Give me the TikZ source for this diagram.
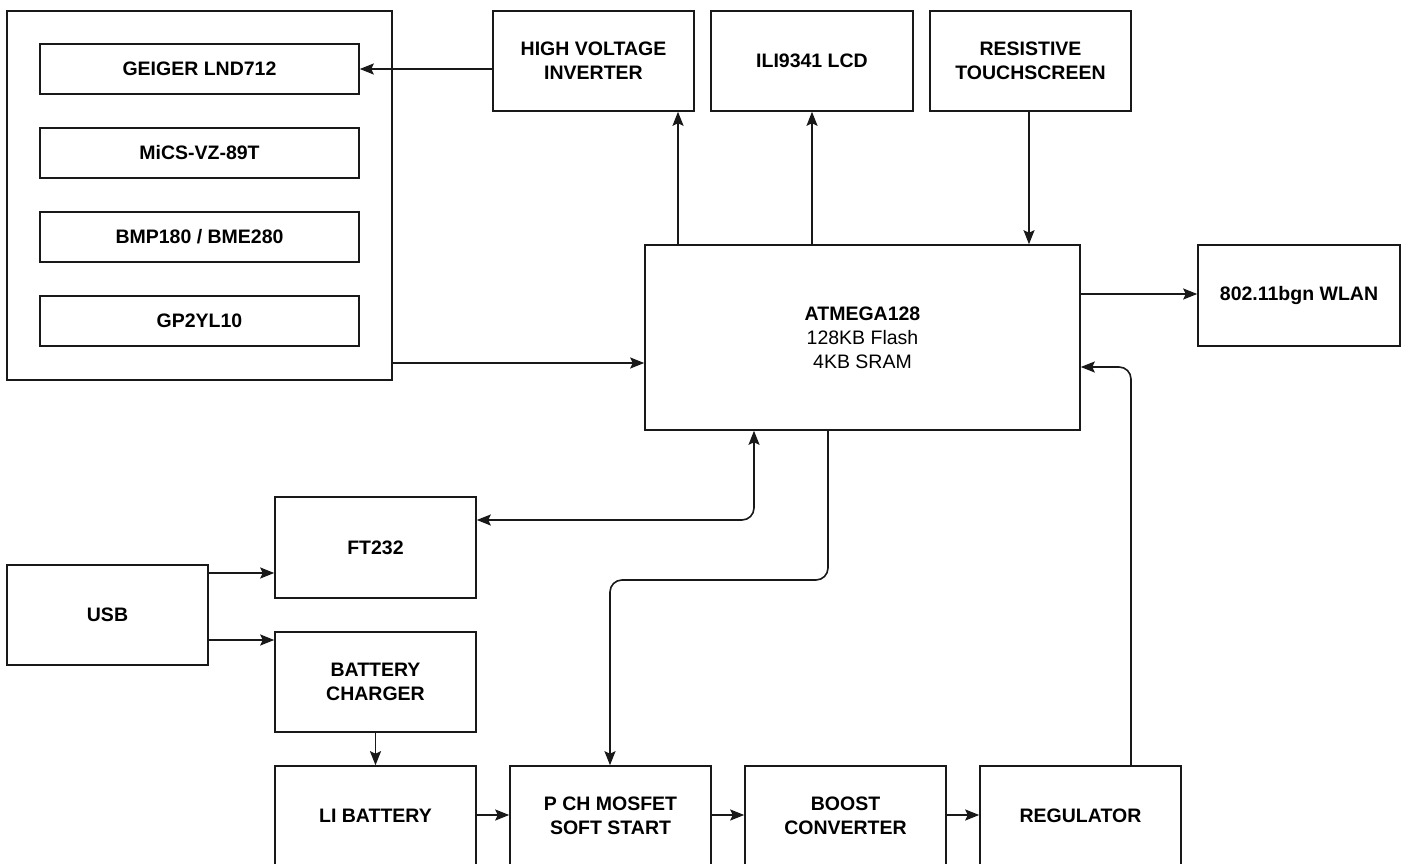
\documentclass[tikz,border=0pt]{standalone}
\usepackage{fontspec}
\setmainfont{Liberation Sans}
\usetikzlibrary{arrows.meta}
\tikzset{
  box/.style={draw=black!90, line width=1.6pt, fill=white, align=center, inner sep=0pt,
    font=\bfseries\fontsize{19.5}{24}\selectfont},
  arr/.style={draw=black!90, line width=1.6pt, -{Stealth[length=14pt,width=11pt,inset=2.5pt]}},
  arrb/.style={draw=black!90, line width=1.6pt, {Stealth[length=14pt,width=11pt,inset=2.5pt]}-{Stealth[length=14pt,width=11pt,inset=2.5pt]}},
}
\begin{document}
\begin{tikzpicture}[x=1pt,y=-1pt]
\clip (0,0) rectangle (1406,864);
\fill[white] (0,0) rectangle (1406,864);
% sensor group
\node[box, minimum width=385, minimum height=369] (sens) at (199.5,195.5) {};
\node[box, minimum width=319, minimum height=50] (geiger) at (199.5,69) {GEIGER LND712};
\node[box, minimum width=319, minimum height=50] (mics) at (199.5,153) {MiCS-VZ-89T};
\node[box, minimum width=319, minimum height=50] (bmp) at (199.5,237) {BMP180 / BME280};
\node[box, minimum width=319, minimum height=50] (gp) at (199.5,321) {GP2YL10};
% top row
\node[box, minimum width=201, minimum height=100] (hv) at (593.5,61) {HIGH VOLTAGE\\INVERTER};
\node[box, minimum width=202, minimum height=100] (lcd) at (812,61) {ILI9341 LCD};
\node[box, minimum width=201, minimum height=100] (touch) at (1030.5,61) {RESISTIVE\\TOUCHSCREEN};
% MCU
\node[box, minimum width=435, minimum height=185] (atm) at (862.5,337.5)
  {ATMEGA128\\{\mdseries 128KB Flash}\\{\mdseries 4KB SRAM}};
\node[box, minimum width=202, minimum height=101] (wlan) at (1299,295.5) {802.11bgn WLAN};
% left lower
\node[box, minimum width=201, minimum height=101] (ft) at (375.5,547.5) {FT232};
\node[box, minimum width=201, minimum height=100] (usb) at (107.5,615) {USB};
\node[box, minimum width=201, minimum height=100] (chg) at (375.5,682) {BATTERY\\CHARGER};
% bottom row
\node[box, minimum width=201, minimum height=100] (li) at (375.5,816) {LI BATTERY};
\node[box, minimum width=201, minimum height=100] (pch) at (610.5,816) {P CH MOSFET\\SOFT START};
\node[box, minimum width=201, minimum height=100] (boost) at (845.5,816) {BOOST\\CONVERTER};
\node[box, minimum width=201, minimum height=100] (reg) at (1080.5,816) {REGULATOR};
% connectors
\draw[arr] (hv.west |- geiger.east) -- (geiger.east);
\draw[arr] (sens.east |- 0,363) -- (atm.west |- 0,363);
\draw[arr] (atm.north -| 678,0) -- (hv.south -| 678,0);
\draw[arr] (atm.north -| lcd.south) -- (lcd.south);
\draw[arr] (touch.south -| 1029,0) -- (atm.north -| 1029,0);
\draw[arr] (atm.east |- 0,294) -- (wlan.west |- 0,294);
\draw[arr, rounded corners=12] (reg.north -| 1131,0) -- (1131,367) -- (atm.east |- 0,367);
\draw[arrb, rounded corners=12] (ft.east |- 0,520) -- (754,520) -- (atm.south -| 754,0);
\draw[arr, rounded corners=12] (atm.south -| 828,0) -- (828,580) -- (610,580) -- (pch.north -| 610,0);
\draw[arr] (usb.east |- 0,573) -- (ft.west |- 0,573);
\draw[arr] (usb.east |- 0,640) -- (chg.west |- 0,640);
\draw[arr] (chg.south) -- (li.north);
\draw[arr] (li.east |- 0,815) -- (pch.west |- 0,815);
\draw[arr] (pch.east |- 0,815) -- (boost.west |- 0,815);
\draw[arr] (boost.east |- 0,815) -- (reg.west |- 0,815);
\end{tikzpicture}
\end{document}
